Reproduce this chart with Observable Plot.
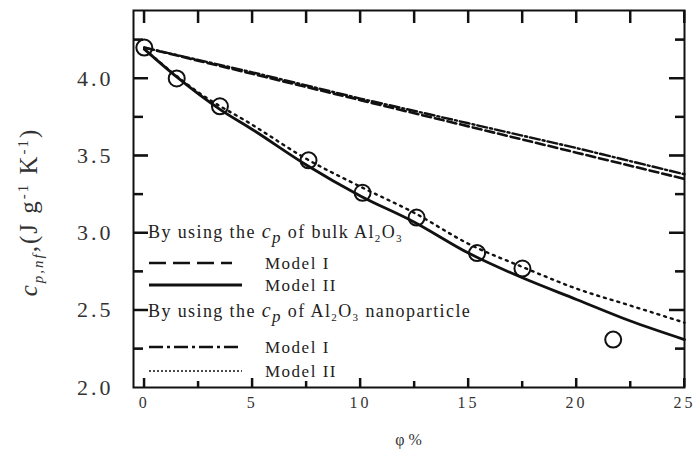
<!DOCTYPE html>
<html>
<head>
<meta charset="utf-8">
<script src="https://cdn.jsdelivr.net/npm/d3@7"></script>
<script src="https://cdn.jsdelivr.net/npm/@observablehq/plot@0.6"></script>
<style>
  html, body { margin: 0; padding: 0; background: #fff; }
  #chart svg { display: block; background: #fff; }
</style>
</head>
<body>
<div id="chart"></div>
<script>
// Measured specific heat of Al2O3 nanofluid vs. volume fraction
const phiMeasured = [0, 1.5, 3.5, 7.6, 10.1, 12.6, 15.4, 17.5, 21.7];
const cpMeasured  = [4.20, 4.00, 3.82, 3.47, 3.26, 3.10, 2.87, 2.77, 2.31];

// Model I (linear mixing), bulk and nanoparticle cp of Al2O3
const phiModelI     = [0, 5, 10, 15, 20, 25];
const cpModelIBulk  = [4.20, 4.03, 3.86, 3.69, 3.52, 3.35];
const cpModelINano  = [4.20, 4.04, 3.87, 3.71, 3.55, 3.38];

// Model II (density-weighted), bulk cp of Al2O3
const phiModelIIBulk = [0, 1.5, 3.5, 5, 7.5, 10, 12.5, 15, 17.5, 20, 22.5, 25];
const cpModelIIBulk  = [4.19, 4.01, 3.80, 3.67, 3.44, 3.24, 3.07, 2.87, 2.71, 2.57, 2.43, 2.31];

// Model II (density-weighted), nanoparticle cp of Al2O3
const phiModelIINano = [0, 2.5, 5, 7.5, 10, 12.5, 15, 17.5, 20, 22.5, 25];
const cpModelIINano  = [4.19, 3.91, 3.70, 3.48, 3.30, 3.13, 2.93, 2.78, 2.64, 2.53, 2.42];

// Axis ticks
const xTickValues = [0, 5, 10, 15, 20, 25];
const xMinorTicks = [2.5, 7.5, 12.5, 17.5, 22.5];
const yTickValues = [2.0, 2.5, 3.0, 3.5, 4.0];
const yMinorTicks = [2.25, 2.75, 3.25, 3.75, 4.25];

const toRows = (xs, ys) => xs.map((x, i) => ({phi: x, cp: ys[i]}));
const measured    = toRows(phiMeasured, cpMeasured);
const modelIBulk  = toRows(phiModelI, cpModelIBulk);
const modelINano  = toRows(phiModelI, cpModelINano);
const modelIIBulk = toRows(phiModelIIBulk, cpModelIIBulk);
const modelIINano = toRows(phiModelIINano, cpModelIINano);

const W = 700, H = 457;
const M = {left: 133, right: 16, top: 10, bottom: 70};
const frameW = W - M.left - M.right;
const frameH = H - M.top - M.bottom;
const xDomain = [-0.5, 25];
const yDomain = [2.0, 4.44];
const xPerPx = (xDomain[1] - xDomain[0]) / frameW;
const yPerPx = (yDomain[1] - yDomain[0]) / frameH;
const INK = "#111";
const FONT = "'Liberation Serif', 'DejaVu Serif', serif";

// Inward tick marks as short rules, with lengths given in pixels
const tk = {stroke: INK, strokeWidth: 2};
const bottomTicks = (vals, len) => Plot.ruleX(vals, {x: d => d, y1: yDomain[0], y2: yDomain[0] + len * yPerPx, ...tk});
const topTicks    = (vals, len) => Plot.ruleX(vals, {x: d => d, y1: yDomain[1], y2: yDomain[1] - len * yPerPx, ...tk});
const leftTicks   = (vals, len) => Plot.ruleY(vals, {y: d => d, x1: xDomain[0], x2: xDomain[0] + len * xPerPx, ...tk});
const rightTicks  = (vals, len) => Plot.ruleY(vals, {y: d => d, x1: xDomain[1], x2: xDomain[1] - len * xPerPx, ...tk});

const plot = Plot.plot({
  width: W,
  height: H,
  marginLeft: M.left,
  marginRight: M.right,
  marginTop: M.top,
  marginBottom: M.bottom,
  x: {domain: xDomain},
  y: {domain: yDomain},
  marks: [
    Plot.axisX({ticks: xTickValues.slice(), tickSize: 0, tickPadding: 9, fontSize: 16,
                tickFormat: d => String(d), label: null}),
    Plot.axisY({ticks: yTickValues.slice(), tickSize: 0, tickPadding: 20, fontSize: 22,
                tickFormat: d => d.toFixed(1), label: null}),
    bottomTicks(xTickValues, 9),
    bottomTicks(xMinorTicks, 6),
    topTicks(xTickValues, 13),
    topTicks(xMinorTicks, 13),
    leftTicks(yTickValues.slice(1), 15),
    leftTicks(yMinorTicks, 10),
    rightTicks(yTickValues.slice(1), 15),
    rightTicks(yMinorTicks, 9),
    Plot.line(modelIBulk, {x: "phi", y: "cp", stroke: INK, strokeWidth: 2.6,
                           strokeDasharray: "9,4"}),
    Plot.line(modelINano, {x: "phi", y: "cp", stroke: INK, strokeWidth: 2.4,
                           strokeDasharray: "10,3,2,3"}),
    Plot.line(modelIIBulk, {x: "phi", y: "cp", stroke: INK, strokeWidth: 2.8,
                            curve: "monotone-x"}),
    Plot.line(modelIINano, {x: "phi", y: "cp", stroke: INK, strokeWidth: 2.4,
                            strokeDasharray: "2,5", curve: "monotone-x"}),
    Plot.dot(measured, {x: "phi", y: "cp", r: 8, stroke: INK, strokeWidth: 2, fill: "none"}),
    Plot.frame({stroke: INK, strokeWidth: 2})
  ]
});

plot.style.fontFamily = FONT;
plot.style.color = "#333";
document.getElementById("chart").appendChild(plot);

const svg = d3.select(plot);
const sx = plot.scale("x"), sy = plot.scale("y");

// wider letter spacing on tick labels
svg.selectAll('g[aria-label="x-axis tick label"] text').attr("letter-spacing", 3);
svg.selectAll('g[aria-label="y-axis tick label"] text').attr("letter-spacing", 3);

// The same inward ticks again as plain SVG lines placed with the plot's scales
const frameLeft = M.left, frameRight = W - M.right;
const frameTop = M.top, frameBottom = H - M.bottom;
const tickLine = (xa, ya, xb, yb) => svg.append("line")
  .attr("x1", xa).attr("y1", ya).attr("x2", xb).attr("y2", yb)
  .attr("stroke", INK).attr("stroke-width", 2);
xTickValues.forEach(v => {
  const px = sx.apply(v);
  tickLine(px, frameBottom, px, frameBottom - 9);
  tickLine(px, frameTop, px, frameTop + 13);
});
xMinorTicks.forEach(v => {
  const px = sx.apply(v);
  tickLine(px, frameBottom, px, frameBottom - 6);
  tickLine(px, frameTop, px, frameTop + 13);
});
yTickValues.slice(1).forEach(v => {
  const py = sy.apply(v);
  tickLine(frameLeft, py, frameLeft + 15, py);
  tickLine(frameRight, py, frameRight - 15, py);
});
yMinorTicks.forEach(v => {
  const py = sy.apply(v);
  tickLine(frameLeft, py, frameLeft + 10, py);
  tickLine(frameRight, py, frameRight - 9, py);
});

// Axis titles
svg.append("text")
  .attr("x", M.left + frameW / 2).attr("y", 445)
  .attr("text-anchor", "middle")
  .attr("font-family", FONT).attr("font-size", 16).attr("fill", "#333")
  .text("φ %");

const yl = svg.append("text")
  .attr("transform", "translate(37,212) rotate(-90)")
  .attr("text-anchor", "middle")
  .attr("font-family", FONT).attr("font-size", 25).attr("letter-spacing", 2).attr("fill", "#333");
yl.append("tspan").attr("font-style", "italic").text("c");
yl.append("tspan").attr("font-style", "italic").attr("font-size", 15).attr("dy", 6).text("p,nf");
yl.append("tspan").attr("dy", -6).text(",(J g");
yl.append("tspan").attr("font-size", 15).attr("dy", -9).text("-1");
yl.append("tspan").attr("dy", 9).text(" K");
yl.append("tspan").attr("font-size", 15).attr("dy", -9).text("-1");
yl.append("tspan").attr("dy", 9).text(")");

// Legend
const lg = svg.append("g").attr("font-family", FONT).attr("fill", "#222").attr("text-anchor", "start");
const heading = (y, middle) => {
  const t = lg.append("text").attr("x", 148).attr("y", y).attr("dy", "0.35em")
    .attr("font-size", 18).attr("letter-spacing", 1.4);
  t.append("tspan").text("By using the ");
  t.append("tspan").attr("font-style", "italic").attr("font-size", 20).text("c");
  t.append("tspan").attr("font-style", "italic").attr("font-size", 17).attr("dy", 5).text("p");
  t.append("tspan").attr("dy", -5).text(middle + "Al");
  t.append("tspan").attr("font-size", 11).attr("dy", 4).text("2");
  t.append("tspan").attr("dy", -4).text("O");
  t.append("tspan").attr("font-size", 11).attr("dy", 4).text("3");
  return t;
};
const entry = (y, label, width, dash, x2) => {
  lg.append("line").attr("x1", 149).attr("x2", x2).attr("y1", y).attr("y2", y)
    .attr("stroke", INK).attr("stroke-width", width).attr("stroke-dasharray", dash);
  lg.append("text").attr("x", 265).attr("y", y).attr("dy", "0.35em")
    .attr("font-size", 17).attr("letter-spacing", 1.5).text(label);
};
heading(232, " of bulk ");
entry(263, "Model I", 2.6, "17,7", 232);
entry(285, "Model II", 3.2, null, 242);
const h2 = heading(311, " of ");
h2.append("tspan").attr("dy", -4).text(" nanoparticle");
entry(347, "Model I", 2.4, "14,4,3,4", 242);
entry(371, "Model II", 1.4, "2,2", 242);
</script>
</body>
</html>
